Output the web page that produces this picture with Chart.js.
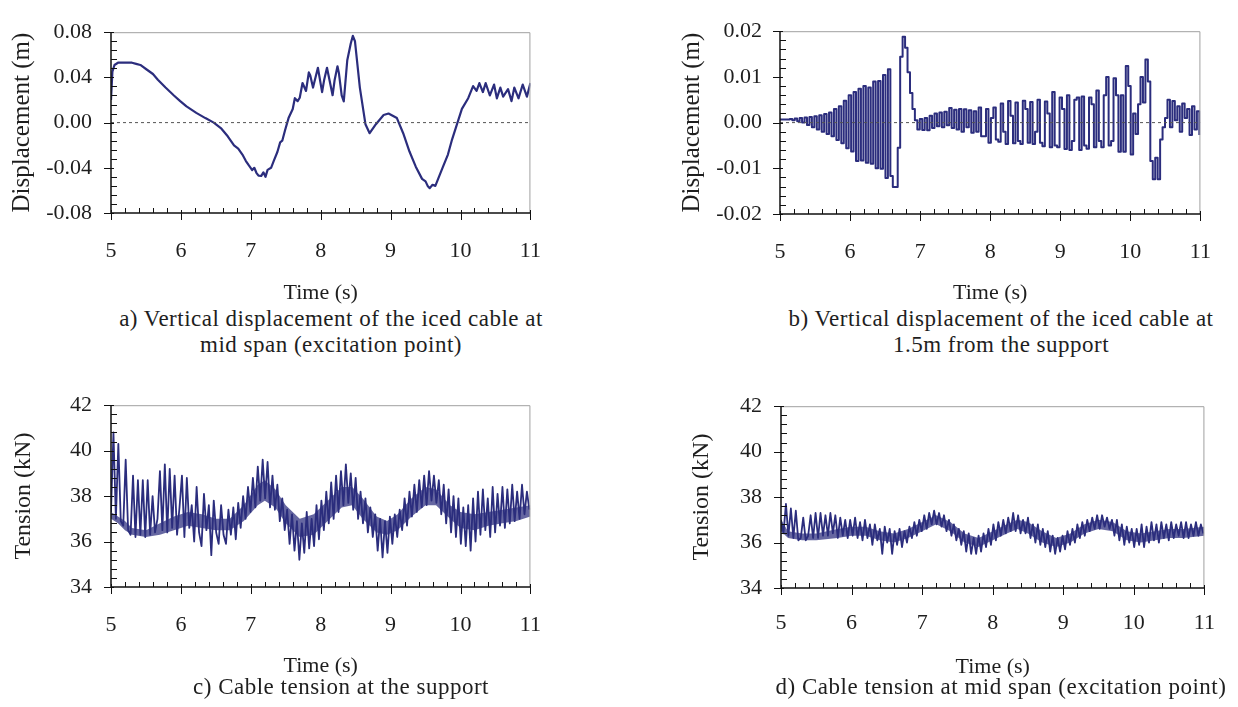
<!DOCTYPE html>
<html>
<head>
<meta charset="utf-8">
<script src="https://cdn.jsdelivr.net/npm/chart.js@4.4.1/dist/chart.umd.min.js"></script>
<style>
body{margin:0;background:#fff;width:1238px;height:707px;position:relative;overflow:hidden;font-family:'Liberation Serif','Times New Roman',serif;color:#1e1e1e}
canvas{position:absolute}
.cap{position:absolute;width:600px;text-align:center;font-size:23px;line-height:26px;letter-spacing:0.5px;white-space:nowrap}
</style>
</head>
<body>
<canvas id="ca" width="566" height="306" style="left:0;top:0"></canvas>
<canvas id="cb" width="567" height="306" style="left:669px;top:0"></canvas>
<canvas id="cc" width="566" height="306" style="left:0;top:373px"></canvas>
<canvas id="cd" width="567" height="306" style="left:670px;top:374px"></canvas>

<div class="cap" style="left:31px;top:306px">a) Vertical displacement of the iced cable at<br>mid span (excitation point)</div>
<div class="cap" style="left:701px;top:306px">b) Vertical displacement of the iced cable at<br>1.5m from the support</div>
<div class="cap" style="left:41px;top:674px">c) Cable tension at the support</div>
<div class="cap" style="left:701px;top:674px">d) Cable tension at mid span (excitation point)</div>

<script>
// tick labels
const timeTicks = [5, 6, 7, 8, 9, 10, 11];
const dispTicksA = ['-0.08', '-0.04', '0.00', '0.04', '0.08'];
const dispTicksB = ['-0.02', '-0.01', '0.00', '0.01', '0.02'];
const tensionTicks = ['34', '36', '38', '40', '42'];

// a) mid span displacement (m)
const timeA = [5.00,5.02,5.05,5.10,5.20,5.30,5.36,5.42,5.51,5.60,
  5.67,5.78,5.90,5.99,6.08,6.22,6.35,6.47,6.58,6.67,
  6.76,6.82,6.88,6.93,6.97,7.02,7.05,7.08,7.11,7.15,
  7.18,7.21,7.24,7.29,7.33,7.38,7.42,7.45,7.49,7.54,
  7.58,7.60,7.63,7.67,7.70,7.74,7.79,7.83,7.85,7.89,
  7.96,8.02,8.05,8.09,8.17,8.20,8.24,8.26,8.30,8.33,
  8.38,8.43,8.46,8.49,8.56,8.64,8.70,8.79,8.90,8.97,
  9.09,9.18,9.27,9.36,9.45,9.50,9.53,9.56,9.60,9.64,
  9.68,9.75,9.82,9.88,9.95,10.02,10.11,10.18,10.23,10.27,
  10.32,10.36,10.42,10.48,10.52,10.57,10.61,10.68,10.73,10.77,
  10.83,10.89,10.95,11.00];
const dispA = [0.020,0.045,0.051,0.053,0.053,0.053,0.052,0.051,0.047,0.043,
  0.038,0.031,0.024,0.019,0.0143,0.0086,0.004,0.000,-0.0054,-0.0121,
  -0.0202,-0.023,-0.0283,-0.034,-0.0377,-0.042,-0.040,-0.0444,-0.047,-0.0471,
  -0.044,-0.048,-0.0418,-0.040,-0.0337,-0.026,-0.0175,-0.016,-0.0067,0.004,
  0.0094,0.012,0.0216,0.019,0.022,0.035,0.028,0.0444,0.042,0.031,
  0.0485,0.027,0.038,0.0485,0.0242,0.038,0.0498,0.044,0.024,0.0188,
  0.0552,0.070,0.0768,0.072,0.031,-0.0014,-0.0094,-0.0014,0.0067,0.008,
  0.004,-0.0094,-0.0256,-0.039,-0.0498,-0.052,-0.056,-0.058,-0.055,-0.056,
  -0.0498,-0.039,-0.0283,-0.0148,-0.0014,0.0121,0.0216,0.0323,0.028,0.035,
  0.027,0.035,0.024,0.0337,0.0215,0.031,0.023,0.0296,0.019,0.031,
  0.0215,0.0337,0.023,0.035];

const sampleStart = 5.0;
const sampleStep = 0.035;

// b) displacement 1.5 m from the support (mm)
const dispBmm = [0.7,0.7,0.7,0.7,0.8,0.5,0.9,0.3,1.0,0.0,
  1.1,-0.5,1.2,-1.0,1.4,-1.5,1.6,-2.0,1.9,-2.5,
  2.2,-3.0,3.0,-3.8,3.6,-4.5,4.8,-5.6,6.0,-6.3,
  6.7,-8.4,7.4,-8.3,8.0,-8.8,7.7,-9.0,9.0,-10.0,
  9.1,-10.1,10.4,-12.1,11.7,-11.7,-14.1,-14.1,-5.5,14.4,
  18.8,16.4,11.0,6.5,3.0,0.5,-1.5,0.8,-1.6,1.0,
  -1.7,1.5,-1.2,2.0,-0.8,2.2,-1.0,2.4,-0.6,3.2,
  -1.2,2.8,-1.5,3.0,-2.0,2.9,-1.0,2.7,-2.2,2.5,
  -2.0,3.3,-3.0,-3.0,3.0,-4.4,1.0,3.3,-3.7,-4.2,
  4.2,-2.0,-4.7,4.7,1.5,-4.5,4.4,-4.0,-4.7,4.8,
  3.0,-4.4,4.5,-4.7,-2.0,5.0,-4.4,-5.2,4.6,2.0,
  -5.4,6.7,-5.0,-5.4,5.5,3.0,-5.8,6.0,-6.0,-4.0,
  5.0,5.5,-6.0,5.7,-5.0,-5.7,5.5,4.0,-5.4,7.0,
  -4.0,-5.4,6.0,10.0,-5.0,-4.0,9.7,6.0,-6.4,6.0,
  -6.4,12.4,8.0,-7.0,2.0,-2.5,4.0,10.0,4.4,13.8,
  9.0,-8.4,-12.4,-7.7,-12.4,-3.7,-1.0,1.0,5.0,-1.0,
  4.7,0.5,3.6,-2.0,4.2,1.0,3.0,-2.7,3.6,-1.5,
  2.5,-2.7];

// c) tension at the support (kN)
const tensionC = [37.3,40.8,37.0,40.3,36.9,36.7,39.6,36.5,36.3,38.9,
  36.2,38.7,36.3,38.7,36.2,38.7,36.3,38.0,36.4,37.0,
  39.1,36.5,39.4,36.4,39.2,36.6,38.9,36.3,37.5,38.9,
  36.2,38.8,36.6,37.6,36.0,38.4,36.4,35.8,38.1,36.5,
  37.6,35.4,37.8,36.4,35.9,37.6,36.3,35.9,37.4,36.3,
  37.5,36.1,37.7,36.6,38.0,37.0,38.4,37.3,38.8,37.5,
  39.3,37.8,39.6,37.9,39.5,37.5,38.9,37.4,38.5,36.9,
  37.9,36.5,37.4,35.9,37.2,35.6,36.9,35.2,36.8,35.5,
  37.3,35.7,37.0,35.8,37.6,36.1,37.8,36.5,38.2,36.8,
  38.6,37.0,38.9,37.3,39.1,37.6,39.4,37.7,39.0,37.4,
  38.8,37.0,38.2,36.8,37.9,36.4,37.5,36.2,37.2,35.6,
  37.0,35.3,36.9,35.5,37.1,35.9,37.2,36.2,37.4,36.5,
  37.9,36.7,38.2,37.1,38.5,37.3,38.7,37.5,38.9,37.6,
  39.1,37.8,38.9,37.7,38.7,37.2,38.5,36.8,38.3,36.4,
  38.0,36.2,37.9,35.9,37.5,35.8,37.6,35.6,37.9,36.0,
  38.2,36.3,38.3,36.5,37.9,36.2,38.4,36.4,38.1,36.7,
  38.4,36.6,38.3,36.8,38.5,36.9,38.2,37.0,38.5,37.2,
  38.2,37.4];
// c) dense core of the oscillation (kN)
const bandTimeC = [5.0,5.1,5.2,5.3,5.5,5.7,5.9,6.1,6.3,6.5,6.7,6.9,7.1,7.2,7.35,7.5,7.7,7.9,8.1,8.3,
  8.45,8.6,8.8,8.95,9.1,9.3,9.5,9.65,9.85,10.0,10.2,10.4,10.6,10.8,11.0];
const bandLowC = [37.0,36.8,36.5,36.3,36.2,36.3,36.5,36.7,36.6,36.5,36.5,36.9,37.6,37.8,37.5,36.8,36.2,36.3,36.9,37.5,
  37.6,37.0,36.4,36.3,36.5,37.1,37.6,37.6,37.0,36.6,36.5,36.7,36.8,36.9,37.1];
const bandHighC = [37.3,37.1,36.9,36.6,36.5,36.8,37.1,37.3,37.2,37.0,37.0,37.6,38.5,38.7,38.3,37.6,37.0,37.2,37.8,38.4,
  38.4,37.9,37.1,36.9,37.2,37.9,38.4,38.3,37.6,37.3,37.2,37.3,37.4,37.5,37.6];

// d) tension at mid span (kN)
const tensionD = [37.0,36.4,37.7,36.3,37.5,36.2,37.4,36.1,36.2,37.1,
  36.1,36.3,37.2,36.2,37.3,36.2,37.3,36.3,37.2,36.3,
  37.3,36.4,37.2,36.2,37.1,36.3,37.0,36.2,37.0,36.3,
  37.1,36.2,36.9,36.1,37.0,36.2,36.8,35.9,36.8,36.1,
  36.6,35.5,36.7,36.0,36.6,35.5,36.5,35.9,36.6,35.8,
  36.5,36.0,36.7,36.2,36.9,36.3,37.0,36.5,37.2,36.6,
  37.3,36.8,37.4,36.8,37.3,36.7,37.2,36.5,37.0,36.3,
  36.8,36.1,36.6,35.9,36.5,35.6,36.4,35.5,36.2,35.5,
  36.3,35.6,36.4,35.8,36.6,35.9,36.8,36.1,36.9,36.3,
  37.0,36.4,37.1,36.5,37.3,36.5,37.2,36.4,37.0,36.4,
  37.1,36.2,36.8,36.0,36.8,35.9,36.6,35.8,36.5,35.6,
  36.3,35.5,36.2,35.6,36.3,35.7,36.5,35.9,36.6,36.0,
  36.8,36.2,36.9,36.3,37.0,36.5,37.1,36.6,37.2,36.6,
  37.2,36.7,37.1,36.6,37.0,36.3,37.0,36.1,36.8,35.9,
  36.7,36.0,36.6,35.8,36.6,35.9,36.8,35.8,36.7,36.0,
  36.9,36.1,36.8,36.0,36.9,36.2,36.8,36.1,36.9,36.2,
  36.8,36.3,36.9,36.2,36.9,36.2,36.8,36.3,36.9,36.3,
  36.8,36.4];
// d) dense core of the oscillation (kN)
const bandTimeD = [5.0,5.1,5.3,5.5,5.8,6.0,6.2,6.4,6.6,6.8,7.0,7.2,7.4,7.6,7.8,8.0,8.2,8.35,8.5,8.7,
  8.9,9.1,9.3,9.5,9.7,9.9,10.1,10.3,10.5,10.7,11.0];
const bandLowD = [36.5,36.2,36.1,36.1,36.2,36.3,36.3,36.1,36.0,36.2,36.5,36.8,36.5,36.0,35.8,36.1,36.4,36.6,36.4,36.0,
  35.8,36.0,36.4,36.6,36.5,36.1,36.0,36.1,36.2,36.2,36.3];
const bandHighD = [37.0,36.5,36.4,36.4,36.6,36.7,36.7,36.5,36.4,36.6,36.9,37.2,36.9,36.4,36.2,36.5,36.8,37.0,36.9,36.5,
  36.2,36.4,36.8,37.0,36.9,36.5,36.4,36.5,36.6,36.6,36.7];

const navy = '#2b2d7d';
const navyFill = 'rgba(43,45,125,0.72)';
Chart.defaults.font.family = "'Liberation Serif', 'Times New Roman', serif";
Chart.defaults.font.size = 22;
Chart.defaults.color = '#1e1e1e';

function sampled(vals, factor) {
  return vals.map((v, i) => ({ x: sampleStart + i * sampleStep, y: v * factor }));
}
function pairs(ts, vs) {
  return ts.map((t, i) => ({ x: t, y: vs[i] }));
}
function zeroLine() {
  return { data: [{ x: timeTicks[0], y: 0 }, { x: timeTicks[timeTicks.length - 1], y: 0 }],
    borderColor: '#555', borderWidth: 1, borderDash: [3, 3] };
}
function band(ts, lo, hi) {
  return [
    { data: pairs(ts, hi), borderWidth: 0, backgroundColor: navyFill, fill: '+1' },
    { data: pairs(ts, lo), borderWidth: 0 }
  ];
}

// frame, axis lines and the major / minor tick marks
const axisMarks = {
  id: 'axisMarks',
  afterDraw(chart, args, o) {
    const { ctx, chartArea: a } = chart;
    const xs = chart.scales.x, ys = chart.scales.y;
    ctx.save();
    ctx.strokeStyle = '#a0a0a0';
    ctx.lineWidth = 1;
    ctx.beginPath();
    ctx.moveTo(a.left, a.top + 0.5);
    ctx.lineTo(a.right - 0.5, a.top + 0.5);
    ctx.lineTo(a.right - 0.5, a.bottom);
    ctx.stroke();

    ctx.strokeStyle = '#111';
    ctx.lineWidth = 1.5;
    ctx.beginPath();
    ctx.moveTo(a.left, a.top);
    ctx.lineTo(a.left, a.bottom);
    ctx.lineTo(a.right, a.bottom);
    ctx.stroke();

    ctx.lineWidth = 1;
    ctx.beginPath();
    let n = Math.round((xs.max - xs.min) / o.xMinor);
    for (let k = 0; k <= n; k++) {
      const px = Math.round(xs.getPixelForValue(xs.min + k * o.xMinor)) + 0.5;
      const major = k % 5 === 0;
      ctx.moveTo(px, a.bottom + (major ? 7 : 0));
      ctx.lineTo(px, a.bottom - (major ? 3 : 5));
    }
    n = Math.round((ys.max - ys.min) / o.yMinor);
    for (let k = 0; k <= n; k++) {
      const py = Math.round(ys.getPixelForValue(ys.min + k * o.yMinor)) + 0.5;
      const major = k % 5 === 0;
      ctx.moveTo(a.left - (major ? 7 : 0), py);
      ctx.lineTo(a.left + (major ? 3 : 6), py);
    }
    ctx.stroke();
    ctx.restore();
  }
};

function panel(id, p) {
  return new Chart(document.getElementById(id), {
    type: 'line',
    data: { datasets: p.datasets },
    options: {
      responsive: false,
      animation: false,
      devicePixelRatio: 1,
      layout: { padding: { top: 15, right: p.padRight, left: 0, bottom: 0 } },
      elements: { point: { radius: 0 }, line: { tension: 0, borderJoinStyle: 'round' } },
      plugins: {
        legend: { display: false },
        tooltip: { enabled: false },
        axisMarks: { xMinor: 0.2, yMinor: p.yMinor }
      },
      scales: {
        x: {
          type: 'linear', min: 5, max: 11,
          grid: { display: false, drawTicks: false },
          border: { display: false },
          afterBuildTicks: s => { s.ticks = timeTicks.map(v => ({ value: v })); },
          ticks: { padding: p.xPad, autoSkip: false, maxRotation: 0, callback: v => String(v) },
          title: { display: true, text: 'Time (s)', padding: 0 },
          afterFit: s => { s.height = p.xHeight; }
        },
        y: {
          type: 'linear', min: p.yMin, max: p.yMax,
          grid: { display: false, drawTicks: false },
          border: { display: false },
          afterBuildTicks: s => { s.ticks = p.yTicks.map(v => ({ value: parseFloat(v) })); },
          ticks: { padding: p.yPad, autoSkip: false, callback: (v, i) => p.yTicks[i] },
          title: { display: true, text: p.yTitle, font: { size: p.yTitleSize },
                   padding: { top: p.yTitlePad, bottom: 0 } },
          afterFit: s => { s.width = 111; }
        }
      }
    },
    plugins: [axisMarks]
  });
}

panel('ca', {
  datasets: [zeroLine(), { data: pairs(timeA, dispA), borderColor: navy, borderWidth: 2.2 }],
  yMin: -0.08, yMax: 0.08, yMinor: 0.008, yTicks: dispTicksA, yTitle: 'Displacement (m)', yTitleSize: 25,
  padRight: 16, xHeight: 93, xPad: 25, yPad: 19, yTitlePad: 7
});
panel('cb', {
  datasets: [zeroLine(), { data: sampled(dispBmm, 0.001), borderColor: navy, borderWidth: 2, stepped: true }],
  yMin: -0.02, yMax: 0.02, yMinor: 0.002, yTicks: dispTicksB, yTitle: 'Displacement (m)', yTitleSize: 25,
  padRight: 16, xHeight: 92, xPad: 25, yPad: 18, yTitlePad: 8
});
panel('cc', {
  datasets: [{ data: sampled(tensionC, 1), borderColor: navy, borderWidth: 1.8 }, ...band(bandTimeC, bandLowC, bandHighC)],
  yMin: 34, yMax: 42, yMinor: 0.4, yTicks: tensionTicks, yTitle: 'Tension (kN)', yTitleSize: 24,
  padRight: 16, xHeight: 92, xPad: 25, yPad: 19, yTitlePad: 9
});
panel('cd', {
  datasets: [{ data: sampled(tensionD, 1), borderColor: navy, borderWidth: 1.8 }, ...band(bandTimeD, bandLowD, bandHighD)],
  yMin: 34, yMax: 42, yMinor: 0.4, yTicks: tensionTicks, yTitle: 'Tension (kN)', yTitleSize: 24,
  padRight: 17, xHeight: 92, xPad: 22, yPad: 19, yTitlePad: 17
});
</script>
</body>
</html>
